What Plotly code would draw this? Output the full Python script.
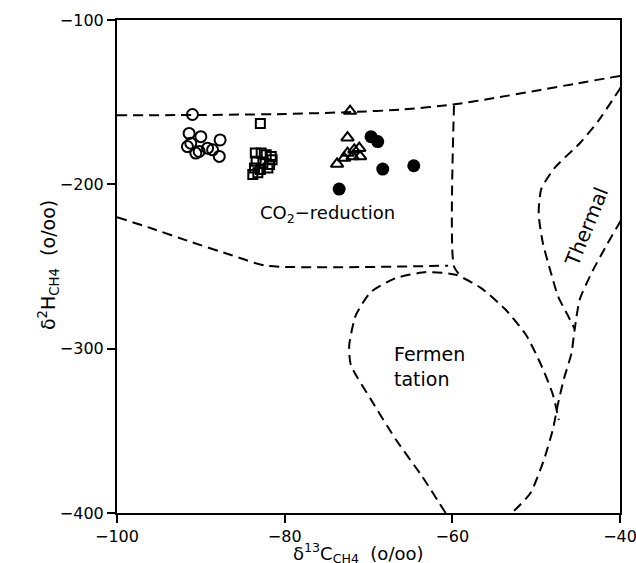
import plotly.graph_objects as go

# ---- data ----
open_circle_x = [-91.0, -91.4, -90.0, -87.7, -91.2, -89.2, -91.6, -90.2, -88.6, -87.8, -90.6]
open_circle_y = [-157.5, -169, -171, -173, -175, -178, -177, -180, -179, -183, -181]

square_x = [-82.9, -83.5, -82.8, -82.2, -81.6, -83.4, -82.6, -81.8, -83.6, -82.9, -82.0, -83.8, -83.2, -81.5]
square_y = [-163, -181, -181, -182, -183, -186, -187, -188, -190, -191, -190, -194, -193, -185]

triangle_x = [-72.2, -72.5, -73.75, -72.5, -71.9, -71.1, -71.0, -71.7, -72.9]
triangle_y = [-155.4, -171.6, -187.6, -181, -183, -178, -183, -179, -184]

filled_x = [-69.7, -68.9, -68.3, -64.6, -73.5]
filled_y = [-171, -174, -190.7, -188.7, -202.9]

# boundary lines (data units)
top_x = [-100, -90, -80, -72, -66, -60, -55, -50, -45, -40]
top_y = [-158, -157.8, -157.2, -156, -154.5, -151.5, -147.5, -143, -138.5, -134]

vert_x = [-59.8, -59.8, -58.8]
vert_y = [-152, -250, -257]

co2_bottom_x = [-100, -96, -91.2, -86.4, -82.2, -60.5]
co2_bottom_y = [-220, -226.6, -235, -243, -249.5, -249.5]

ferm_x = [-60.8, -63.7, -66.7, -69.7, -72.1, -72.3, -71.5, -69.7, -66.7, -63.1, -59.6, -56.6, -53.6, -51.2, -49.4, -48.0, -47.3]
ferm_y = [-400, -377, -355.6, -331, -310, -298, -279.5, -265.5, -257, -253.4, -255, -263, -276.5, -291.7, -310, -328, -343.4]

therm_a_x = [-39.9, -42.6, -44.8, -47.8, -49.4, -49.7, -49.2, -48.3, -47.4, -46.3, -45.4]
therm_a_y = [-141, -161.5, -175, -190, -203, -218, -235.7, -252.7, -268, -279, -288]

therm_b_x = [-39.9, -41.6, -43.3, -44.8, -45.4, -45.8, -46.7, -47.4, -48.0, -49.1, -50.7, -52.9]
therm_b_y = [-222, -237, -253, -270, -288, -303, -318.5, -333.7, -349, -368, -388, -400]

x_ticks = [-100, -80, -60, -40]
y_ticks = [-100, -200, -300, -400]

FONT = "DejaVu Sans"

fig = go.Figure()

dash_style = dict(color="black", width=2, dash="10px,6px", shape="spline", smoothing=0.6)
for lx, ly in [(top_x, top_y), (vert_x, vert_y), (co2_bottom_x, co2_bottom_y),
               (ferm_x, ferm_y), (therm_a_x, therm_a_y), (therm_b_x, therm_b_y)]:
    fig.add_trace(go.Scatter(x=lx, y=ly, mode="lines", line=dash_style,
                             hoverinfo="skip", showlegend=False))

fig.add_trace(go.Scatter(x=open_circle_x, y=open_circle_y, mode="markers",
                         marker=dict(symbol="circle-open", size=11, color="black",
                                     line=dict(width=2, color="black")), showlegend=False))
fig.add_trace(go.Scatter(x=square_x, y=square_y, mode="markers",
                         marker=dict(symbol="square-open", size=9, color="black",
                                     line=dict(width=2, color="black")), showlegend=False))
fig.add_trace(go.Scatter(x=triangle_x, y=triangle_y, mode="markers",
                         marker=dict(symbol="triangle-up-open", size=11, color="black",
                                     line=dict(width=2, color="black")), showlegend=False))
fig.add_trace(go.Scatter(x=filled_x, y=filled_y, mode="markers",
                         marker=dict(symbol="circle", size=13, color="black"), showlegend=False))

fig.add_annotation(x=-74.9, y=-218, text="CO<sub>2</sub>\u2212reduction", showarrow=False,
                   font=dict(family=FONT, size=18, color="black"))
fig.add_annotation(x=-62.7, y=-311, text="Fermen<br>tation", showarrow=False, align="left",
                   font=dict(family=FONT, size=19, color="black"))
fig.add_annotation(x=-44.0, y=-226, text="Thermal", showarrow=False, textangle=-68,
                   font=dict(family=FONT, size=20, color="black"))

fig.add_annotation(xref="paper", yref="paper", x=0.48, y=-0.081, yanchor="middle",
                   text="\u03b4<sup>13</sup>C<sub>CH4</sub>  (o/oo)", showarrow=False,
                   font=dict(family=FONT, size=18, color="black"))
fig.add_annotation(xref="paper", yref="paper", x=-0.137, y=0.503, xanchor="center",
                   text="\u03b4<sup>2</sup>H<sub>CH4</sub>  (o/oo)", showarrow=False, textangle=-90,
                   font=dict(family=FONT, size=19, color="black"))

axis_common = dict(showgrid=False, zeroline=False, showline=True, linecolor="black", linewidth=2,
                   mirror=True, ticks="outside", ticklen=8, tickwidth=1.5, tickcolor="black",
                   ticklabeloverflow="allow", automargin=False,
                   tickfont=dict(family=FONT, size=16, color="black"))
fig.update_xaxes(range=[-100, -40], tickvals=x_ticks, **axis_common)
fig.update_yaxes(range=[-400, -100], tickvals=y_ticks, **axis_common)

fig.update_layout(width=636, height=563, margin=dict(l=117, r=16, t=20, b=50),
                  plot_bgcolor="white", paper_bgcolor="white")

fig.write_html("out.html", config={"displayModeBar": False},
               post_script="document.body.style.margin='0px';document.body.style.overflow='hidden';")
